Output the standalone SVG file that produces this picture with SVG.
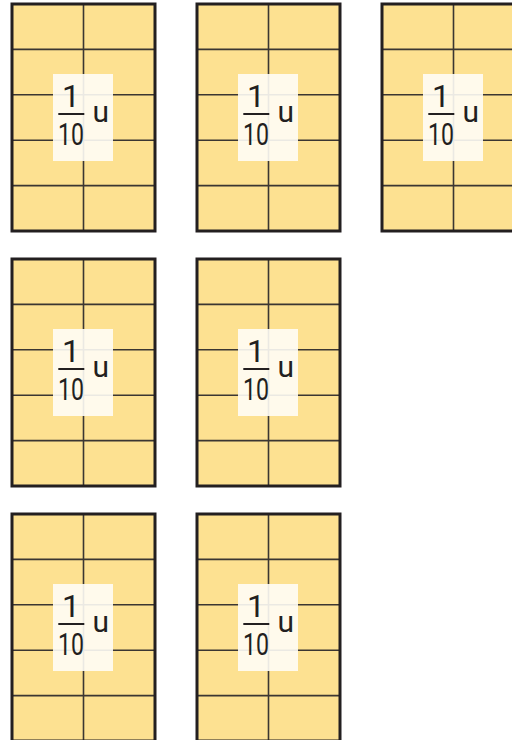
<svg xmlns="http://www.w3.org/2000/svg" xmlns:xlink="http://www.w3.org/1999/xlink" width="512" height="740" viewBox="0 0 512 740">
<style>
.fill{fill:#fde191}
.grid{stroke:#3b3632;stroke-width:1.6;fill:none}
.outer{stroke:#231f20;stroke-width:3;fill:none}
.lab{fill:#fffdf6;fill-opacity:0.9}
.t{font-family:Roboto,"Liberation Sans",sans-serif;fill:#231f20}
</style>
<defs>
<g id="blk">
<rect class="fill" x="0" y="0" width="143" height="227"/>
<path class="grid" d="M0 45.4H143M0 90.8H143M0 136.2H143M0 181.6H143M71.5 0V227"/>
<rect class="outer" x="0" y="0" width="143" height="227"/>
<rect class="lab" x="41" y="70" width="60" height="87"/>
<text class="t" x="59" y="102.7" font-size="32" text-anchor="middle">1</text>
<line x1="46.3" y1="110" x2="72.3" y2="110" stroke="#231f20" stroke-width="2"/>
<text class="t" x="59" y="140.7" font-size="31" text-anchor="middle" textLength="26" lengthAdjust="spacingAndGlyphs">10</text>
<text class="t" x="80.5" y="118" font-size="30">u</text>
</g>
</defs>
<g id="block-r1c1"><use xlink:href="#blk" href="#blk" x="12" y="4"/></g>
<g id="block-r1c2"><use xlink:href="#blk" href="#blk" x="197" y="4"/></g>
<g id="block-r1c3"><use xlink:href="#blk" href="#blk" x="382" y="4"/></g>
<g id="block-r2c1"><use xlink:href="#blk" href="#blk" x="12" y="259"/></g>
<g id="block-r2c2"><use xlink:href="#blk" href="#blk" x="197" y="259"/></g>
<g id="block-r3c1"><use xlink:href="#blk" href="#blk" x="12" y="514"/></g>
<g id="block-r3c2"><use xlink:href="#blk" href="#blk" x="197" y="514"/></g>
<g id="connectors"/>
</svg>
